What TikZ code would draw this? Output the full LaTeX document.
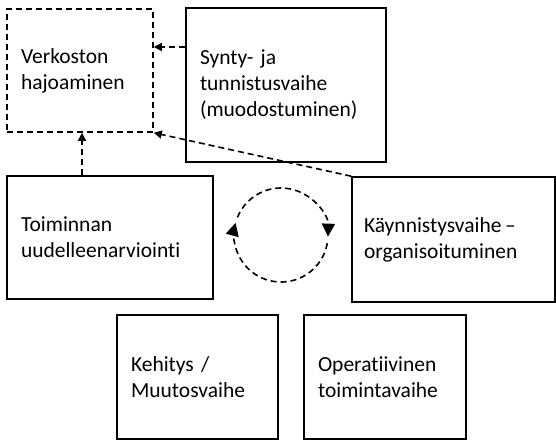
\documentclass[tikz,border=0pt]{standalone}
\usepackage{fontspec}
\setmainfont{Carlito}[Ligatures=NoCommon]
\usetikzlibrary{arrows.meta}
\begin{document}
\begin{tikzpicture}[x=1pt,y=1pt,
  phase/.style={draw, line width=1.6pt, inner xsep=14pt, inner ysep=0pt,
    align=left, font=\fontsize{21.5}{26}\selectfont},
  dashbox/.style={phase, dash pattern=on 6pt off 4pt},
  link/.style={line width=1.6pt, dash pattern=on 6pt off 4pt,
    -{Triangle[length=8pt,width=8pt]}},
  cyclearr/.style={line width=1.6pt, dash pattern=on 6pt off 4pt,
    -{Triangle[length=13pt,width=13pt]}}]
\useasboundingbox (0,0) rectangle (556,-440);

% phase boxes
\node[dashbox, text width=118pt, minimum height=123pt] (hajo) at (80,-70.5)
  {Verkoston\\hajoaminen};
\node[phase, text width=172pt, minimum height=154pt] (synty) at (286,-85)
  {Synty-~ja\\tunnistusvaihe\\(muodostuminen)};
\node[phase, text width=178pt, minimum height=123pt] (toim) at (110,-237.5)
  {Toiminnan\\uudelleenarviointi};
\node[phase, inner xsep=12pt, text width=179pt, minimum height=125pt] (kaynn) at (453.5,-239.5)
  {Käynnistysvaihe\,–\\organisoituminen};
\node[phase, text width=133pt, minimum height=124pt] (kehitys) at (197.5,-377)
  {Kehitys /\\Muutosvaihe};
\node[phase, text width=134pt, minimum height=124pt] (oper) at (385,-377)
  {Operatiivinen\\toimintavaihe};

% connectors into the dissolution box
\coordinate (ya) at (0,-47);
\coordinate (xb) at (82,0);
\draw[link] (synty.west |- ya) -- (hajo.east |- ya);
\draw[link] (kaynn.north west) -- (hajo.south east);
\draw[link] (toim.north -| xb) -- (hajo.south -| xb);

% cycle between the phases
\coordinate (cyc) at (281,-235);
\draw[cyclearr] (cyc) ++(-10:47) arc[start angle=-10, end angle=-195, radius=47];
\draw[cyclearr] (cyc) ++(158:47) arc[start angle=158, end angle=-2, radius=47];
\end{tikzpicture}
\end{document}
